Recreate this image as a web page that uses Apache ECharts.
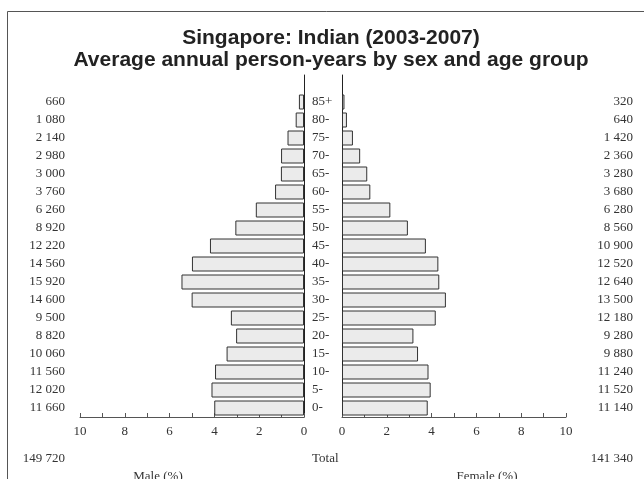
<!DOCTYPE html>
<html>
<head>
<meta charset="utf-8">
<script src="https://cdn.jsdelivr.net/npm/echarts@6/dist/echarts.min.js"></script>
<style>
  html, body { margin: 0; padding: 0; background: #fff; }
  #main { width: 644px; height: 479px; }
</style>
</head>
<body>
<div id="main"></div>
<script>
// age groups, bottom to top
const ages = ['0-', '5-', '10-', '15-', '20-', '25-', '30-', '35-', '40-', '45-',
  '50-', '55-', '60-', '65-', '70-', '75-', '80-', '85+'];
const maleCounts = [11660, 12020, 11560, 10060, 8820, 9500, 14600, 15920, 14560, 12220,
  8920, 6260, 3760, 3000, 2980, 2140, 1080, 660];
const femaleCounts = [11140, 11520, 11240, 9880, 9280, 12180, 13500, 12640, 12520, 10900,
  8560, 6280, 3680, 3280, 2360, 1420, 640, 320];
const maleTotal = 149720;
const femaleTotal = 141340;
const pctTicks = [0, 2, 4, 6, 8, 10];

const grand = maleTotal + femaleTotal;
const fmt = (n) => String(n).replace(/\B(?=(\d{3})+(?!\d))/g, ' ');

// extra empty slot on top so the vertical axis runs a bit above 85+
const ageCats = ages.concat(['']);
const maleCats = maleCounts.map(fmt).concat(['']);
const femaleCats = femaleCounts.map(fmt).concat(['']);

const serif = '"Liberation Serif", "Times New Roman", serif';
const txt = '#333';

const xBase = {
  type: 'value',
  min: pctTicks[0],
  max: pctTicks[pctTicks.length - 1],
  interval: 2,
  axisLine: { show: true, lineStyle: { color: '#555', width: 1 } },
  axisTick: { show: true, inside: true, length: 4, lineStyle: { color: '#555' } },
  minorTick: { show: true, splitNumber: 2, length: 4, lineStyle: { color: '#555' } },
  splitLine: { show: false },
  axisLabel: { color: txt, fontFamily: serif, fontSize: 13, margin: 8 }
};

const option = {
  animation: false,
  backgroundColor: '#fff',
  grid: [
    { left: 80, top: 75, width: 224, height: 342 },
    { left: 342, top: 75, width: 224, height: 342 }
  ],
  xAxis: [
    Object.assign({ gridIndex: 0, inverse: true }, xBase),
    Object.assign({ gridIndex: 1 }, xBase)
  ],
  yAxis: [
    {
      gridIndex: 0, type: 'category', position: 'right', data: ageCats,
      axisLine: { show: true, lineStyle: { color: '#222' } },
      axisTick: { show: false }, axisLabel: { show: false }
    },
    {
      gridIndex: 0, type: 'category', position: 'left', data: maleCats,
      axisLine: { show: false }, axisTick: { show: false },
      axisLabel: { color: txt, fontFamily: serif, fontSize: 13, margin: 15, align: 'right' }
    },
    {
      gridIndex: 1, type: 'category', position: 'left', data: ageCats,
      axisLine: { show: true, lineStyle: { color: '#222' } },
      axisTick: { show: false },
      axisLabel: { color: txt, fontFamily: serif, fontSize: 13, margin: 30, align: 'left' }
    },
    {
      gridIndex: 1, type: 'category', position: 'right', data: femaleCats,
      axisLine: { show: false }, axisTick: { show: false },
      axisLabel: { color: txt, fontFamily: serif, fontSize: 13, margin: 67, align: 'right' }
    }
  ],
  series: [
    {
      name: 'Male', type: 'bar', xAxisIndex: 0, yAxisIndex: 0,
      barWidth: 15,
      data: maleCounts.map((c) => c / grand * 100),
      itemStyle: { color: '#ebebeb', borderColor: '#333', borderWidth: 1 }
    },
    {
      name: 'Female', type: 'bar', xAxisIndex: 1, yAxisIndex: 2,
      barWidth: 15,
      data: femaleCounts.map((c) => c / grand * 100),
      itemStyle: { color: '#ebebeb', borderColor: '#333', borderWidth: 1 }
    }
  ],
  graphic: [
    {
      type: 'rect', silent: true, z: 0,
      shape: { x: 7.5, y: 11.5, width: 700, height: 500 },
      style: { fill: 'none', stroke: '#555', lineWidth: 1 }
    },
    {
      type: 'text', x: 331, y: 38,
      style: {
        text: 'Singapore: Indian (2003-2007)', align: 'center', verticalAlign: 'middle',
        font: 'bold 21px "Liberation Sans", Arial, sans-serif', fill: '#222'
      }
    },
    {
      type: 'text', x: 331, y: 60,
      style: {
        text: 'Average annual person-years by sex and age group', align: 'center', verticalAlign: 'middle',
        font: 'bold 21px "Liberation Sans", Arial, sans-serif', fill: '#222'
      }
    },
    {
      type: 'text', x: 65, y: 459,
      style: { text: fmt(maleTotal), align: 'right', verticalAlign: 'middle', font: '13px ' + serif, fill: txt }
    },
    {
      type: 'text', x: 312, y: 459,
      style: { text: 'Total', align: 'left', verticalAlign: 'middle', font: '13px ' + serif, fill: txt }
    },
    {
      type: 'text', x: 633, y: 459,
      style: { text: fmt(femaleTotal), align: 'right', verticalAlign: 'middle', font: '13px ' + serif, fill: txt }
    },
    {
      type: 'text', x: 158, y: 477,
      style: { text: 'Male (%)', align: 'center', verticalAlign: 'middle', font: '13px ' + serif, fill: txt }
    },
    {
      type: 'text', x: 487, y: 477,
      style: { text: 'Female (%)', align: 'center', verticalAlign: 'middle', font: '13px ' + serif, fill: txt }
    }
  ]
};

const chart = echarts.init(document.getElementById('main'), null, { renderer: 'canvas' });
chart.setOption(option);
</script>
</body>
</html>
